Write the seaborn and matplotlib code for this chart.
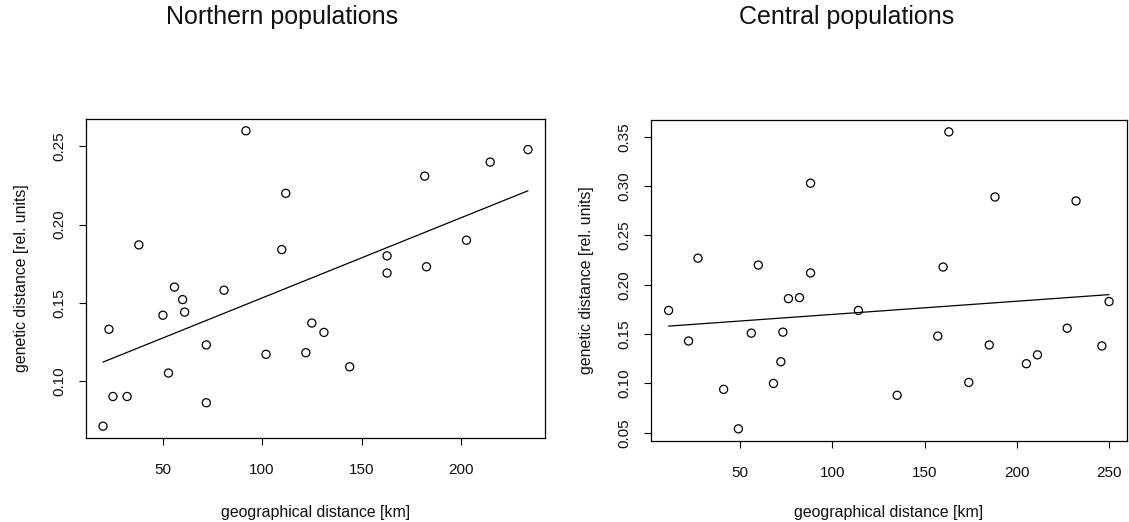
import numpy as np
import pandas as pd
import matplotlib
matplotlib.use("Agg")
import matplotlib.pyplot as plt
import seaborn as sns

# ---- data ----
north_geo = [20.1, 23.1, 25.1, 32.2, 38.1, 50.2, 53.0, 56.0, 60.1, 61.1,
             72.0, 72.0, 80.9, 91.9, 102.0, 109.9, 111.9, 122.0, 125.0, 131.1,
             144.0, 162.8, 162.8, 181.7, 182.6, 202.7, 214.6, 233.6]
north_gen = [0.071, 0.133, 0.090, 0.090, 0.187, 0.142, 0.105, 0.160, 0.152, 0.144,
             0.123, 0.086, 0.158, 0.260, 0.117, 0.184, 0.220, 0.118, 0.137, 0.131,
             0.109, 0.180, 0.169, 0.231, 0.173, 0.190, 0.240, 0.248]

central_geo = [11.3, 22.1, 27.2, 41.1, 49.1, 56.1, 59.9, 68.1, 72.1, 73.2,
               76.2, 82.2, 88.2, 88.2, 114.1, 135.1, 157.1, 160.0, 163.1, 173.9,
               185.0, 188.1, 205.1, 211.1, 227.2, 232.0, 246.0, 249.9]
central_gen = [0.174, 0.143, 0.227, 0.094, 0.054, 0.151, 0.220, 0.100, 0.122, 0.152,
               0.186, 0.187, 0.303, 0.212, 0.174, 0.088, 0.148, 0.218, 0.355, 0.101,
               0.139, 0.289, 0.120, 0.129, 0.156, 0.285, 0.138, 0.183]

titles = ["Northern populations", "Central populations"]
xlabel = "geographical distance [km]"
ylabel = "genetic distance [rel. units]"
north_xticks = [50, 100, 150, 200]
north_yticks = [0.10, 0.15, 0.20, 0.25]
central_xticks = [50, 100, 150, 200, 250]
central_yticks = [0.05, 0.10, 0.15, 0.20, 0.25, 0.30, 0.35]

sns.set_theme(style="white")
plt.rcParams["font.family"] = ["Liberation Sans", "DejaVu Sans"]

W, H = 1129, 522
fig = plt.figure(figsize=(W / 100, H / 100), dpi=100)

panels = [
    dict(x=north_geo, y=north_gen, title=titles[0], xt=north_xticks, yt=north_yticks,
         box=(86, 119, 545, 438), title_x=282, ylab_x=22),
    dict(x=central_geo, y=central_gen, title=titles[1], xt=central_xticks, yt=central_yticks,
         box=(651, 120, 1126.7, 440.7), title_x=846.5, ylab_x=587),
]

def pad_lim(v):
    lo, hi = min(v), max(v)
    r = hi - lo
    return lo - 0.04 * r, hi + 0.04 * r

for p in panels:
    l, t, r, b = p["box"]
    ax = fig.add_axes([l / W, 1 - b / H, (r - l) / W, (b - t) / H])
    df = pd.DataFrame({"geo": p["x"], "gen": p["y"]})
    sns.scatterplot(data=df, x="geo", y="gen", ax=ax, marker="o", s=34,
                    facecolor="none", edgecolor="black", linewidth=0.9, zorder=3)
    sns.regplot(data=df, x="geo", y="gen", ax=ax, scatter=False, ci=None,
                truncate=True, line_kws=dict(color="black", lw=0.9))
    ax.set_xlim(*pad_lim(p["x"]))
    ax.set_ylim(*pad_lim(p["y"]))
    ax.set_xticks(p["xt"])
    ax.set_yticks(p["yt"])
    ax.set_xticklabels([str(v) for v in p["xt"]])
    ax.set_yticklabels([f"{v:.2f}" for v in p["yt"]], rotation=90, va="center")
    ax.tick_params(axis="both", which="major", direction="out", length=5,
                   width=0.8, color="black", labelsize=11, labelcolor="#111111",
                   bottom=True, left=True, top=False, right=False)
    ax.tick_params(axis="x", pad=13)
    ax.tick_params(axis="y", pad=9)
    for s in ax.spines.values():
        s.set_color("black")
        s.set_linewidth(0.9)
        s.set_visible(True)
    ax.set_xlabel(xlabel, fontsize=11.4, color="#111111", va="center")
    ax.set_ylabel(ylabel, fontsize=11.4, color="#111111", va="center")
    ax.xaxis.set_label_coords(0.5, (b - 512) / (b - t))
    ax.yaxis.set_label_coords((p["ylab_x"] - l) / (r - l), 0.5)
    ax.set_title(p["title"], fontsize=18, color="#111111", va="baseline", ha="center",
                 x=(p["title_x"] - l) / (r - l), y=(b - 32) / (b - t))
    ax.set_facecolor("white")

fig.savefig("out.png", dpi=100, facecolor="white")
